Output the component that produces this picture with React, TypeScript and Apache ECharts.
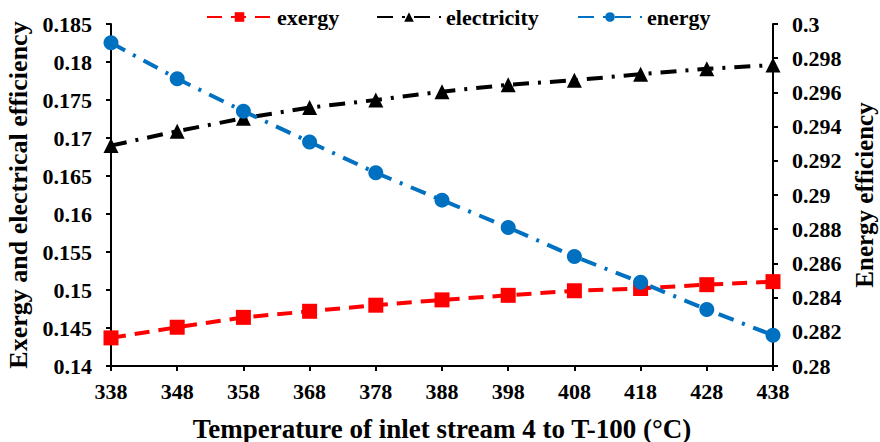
import React, { useEffect, useRef } from "react";
import * as echarts from "echarts";

// Inlet temperature of stream 4 to T-100 (°C)
const temperatures = [338, 348, 358, 368, 378, 388, 398, 408, 418, 428, 438];
// Exergy efficiency (left axis)
const exergy = [0.1437, 0.1451, 0.1464, 0.1472, 0.148, 0.1487, 0.1493, 0.1499, 0.1502, 0.1507, 0.1511];
// Electrical efficiency (left axis)
const electricity = [0.169, 0.1709, 0.1726, 0.174, 0.175, 0.1761, 0.177, 0.1776, 0.1784, 0.1791, 0.1796];
// Energy efficiency (right axis)
const energy = [0.2989, 0.2968, 0.2949, 0.2931, 0.2913, 0.2897, 0.2881, 0.2864, 0.2849, 0.2833, 0.2818];

const FONT = "Liberation Serif";

export default function App() {
  const ref = useRef<HTMLDivElement>(null);

  useEffect(() => {
    if (!ref.current) return;
    const chart = echarts.init(ref.current, undefined, { renderer: "svg" });
    const pair = (vals: number[]) => temperatures.map((t, i) => [t, vals[i]]);
    const axisLine = { show: true, lineStyle: { color: "#000", width: 2 } };
    const axisTick = { show: true, length: 5, lineStyle: { color: "#000", width: 2 } };
    const legendItem = (name: string, left: number, itemWidth: number) => ({
      top: 6,
      left,
      padding: 0,
      itemWidth,
      itemHeight: 12,
      textStyle: { fontFamily: FONT, fontWeight: 700, fontSize: 22, color: "#000" },
      data: [name],
    });

    chart.setOption({
      animation: false,
      backgroundColor: "#fff",
      textStyle: { fontFamily: FONT, fontWeight: 700 },
      grid: {
        left: 111,
        right: 107,
        top: 24,
        bottom: 76,
        containLabel: false,
        outerBoundsMode: "none",
      },
      legend: [
        legendItem("exergy", 206, 65),
        legendItem("electricity", 376, 64),
        legendItem("energy", 577, 64),
      ],
      xAxis: {
        type: "value",
        min: 338,
        max: 438,
        interval: 10,
        axisLine,
        axisTick,
        splitLine: { show: false },
        axisLabel: { fontFamily: FONT, fontWeight: 700, fontSize: 22, color: "#000", margin: 14 },
        name: "Temperature of inlet stream 4 to T-100 (°C)",
        nameLocation: "middle",
        nameGap: 49,
        nameTextStyle: { fontFamily: FONT, fontWeight: "bold", fontSize: 27, color: "#000" },
      },
      yAxis: [
        {
          type: "value",
          min: 0.14,
          max: 0.185,
          interval: 0.005,
          position: "left",
          axisLine,
          axisTick,
          splitLine: { show: false },
          axisLabel: { fontFamily: FONT, fontWeight: 700, fontSize: 22, color: "#000", margin: 19 },
          name: "Exergy and electrical efficiency",
          nameLocation: "middle",
          nameGap: 73,
          nameTextStyle: { fontFamily: FONT, fontWeight: "bold", fontSize: 26, color: "#000" },
        },
        {
          type: "value",
          min: 0.28,
          max: 0.3,
          interval: 0.002,
          position: "right",
          axisLine,
          axisTick,
          splitLine: { show: false },
          axisLabel: { fontFamily: FONT, fontWeight: 700, fontSize: 22, color: "#000", margin: 19 },
          name: "Energy efficiency",
          nameLocation: "middle",
          nameGap: 79,
          nameRotate: 90,
          nameTextStyle: { fontFamily: FONT, fontWeight: "bold", fontSize: 25, color: "#000" },
        },
      ],
      series: [
        {
          name: "exergy",
          type: "line",
          yAxisIndex: 0,
          data: pair(exergy),
          symbol: "rect",
          symbolSize: 15,
          itemStyle: { color: "#ff0000" },
          lineStyle: { color: "#ff0000", width: 4, type: [15, 9] },
        },
        {
          name: "electricity",
          type: "line",
          yAxisIndex: 0,
          data: pair(electricity),
          symbol: "triangle",
          symbolSize: 15,
          itemStyle: { color: "#000" },
          lineStyle: { color: "#000", width: 4, type: [16, 9, 3, 9] },
        },
        {
          name: "energy",
          type: "line",
          yAxisIndex: 1,
          data: pair(energy),
          symbol: "circle",
          symbolSize: 15,
          itemStyle: { color: "#0070c0" },
          lineStyle: { color: "#0070c0", width: 4, type: [16, 9, 3, 9] },
        },
      ],
    });
    return () => chart.dispose();
  }, []);

  return <div ref={ref} style={{ width: 880, height: 442, position: "absolute", left: 0, top: 0 }} />;
}
